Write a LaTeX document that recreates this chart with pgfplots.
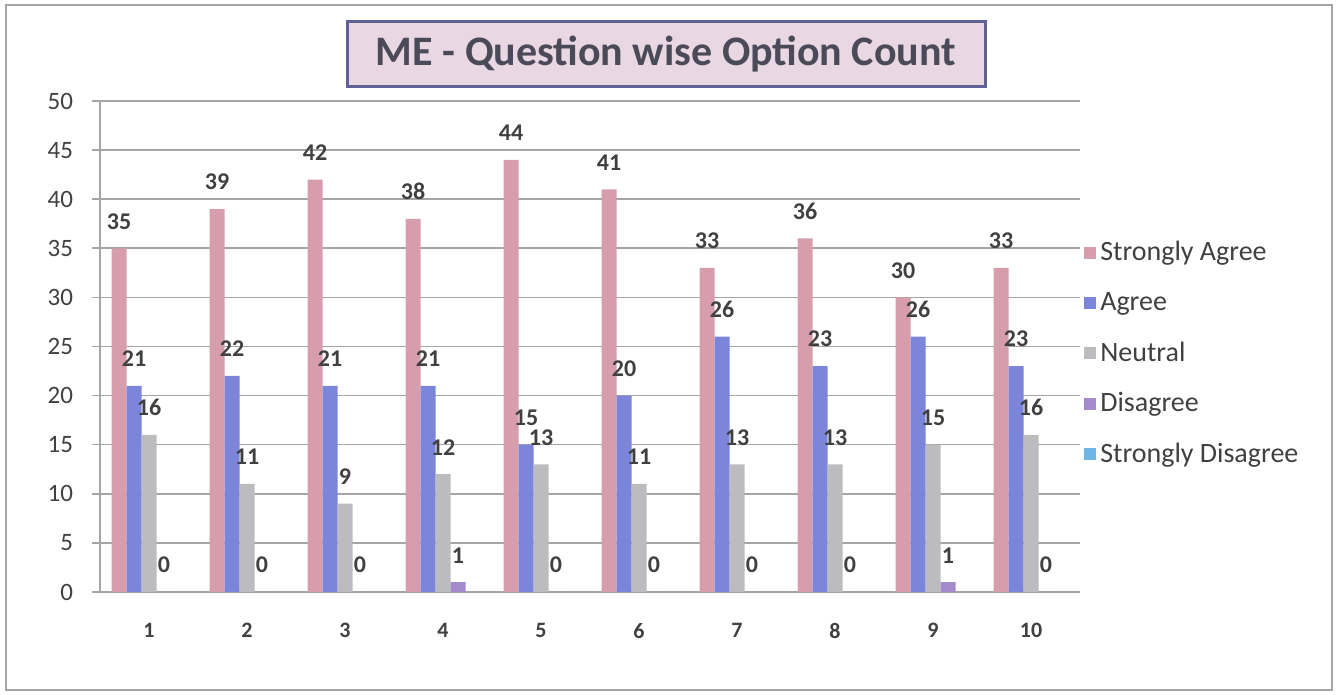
\documentclass[border=0pt]{standalone}
\usepackage{pgfplots}
\pgfplotsset{compat=1.18}
\usepackage{fontspec}
\setmainfont{Carlito}
\definecolor{cSA}{RGB}{214,157,172}
\definecolor{cA}{RGB}{123,134,219}
\definecolor{cN}{RGB}{188,188,191}
\definecolor{cD}{RGB}{163,138,203}
\definecolor{cSD}{RGB}{111,182,229}
\definecolor{txt}{RGB}{64,64,64}
\definecolor{gridc}{RGB}{165,165,165}
\definecolor{titlefill}{RGB}{233,216,228}
\definecolor{titledraw}{RGB}{96,98,150}
\begin{document}
\begin{tikzpicture}
\useasboundingbox (0,0) rectangle (670.5pt,347.5pt);
\draw[gridc, line width=1pt] (3pt,2.5pt) rectangle (666pt,345pt);
\begin{axis}[
  at={(50pt,51.5pt)}, anchor=south west,
  scale only axis, width=490pt, height=245.5pt,
  ybar=0pt, bar width=7.5pt,
  xmin=0.5, xmax=10.5, ymin=0, ymax=50,
  xtick={1,...,10},
  xticklabel style={font=\fontsize{11}{13}\selectfont\bfseries, text=txt, yshift=-8pt},
  extra x ticks={0.5,1.5,...,10.5}, extra x tick labels={},
  extra x tick style={grid=none, major tick length=4pt, tick align=outside, tick style={gridc, line width=0.8pt}},
  ytick={0,5,...,50},
  yticklabel style={font=\fontsize{12.5}{14}\selectfont, text=txt, xshift=-6pt},
  /pgf/number format/assume math mode=true,
  axis x line*=bottom, axis y line*=left,
  axis line style={gridc, line width=0.8pt, -},
  x tick style={draw=none},
  y tick style={gridc, line width=0.8pt},
  major tick length=4pt, tick align=outside,
  ymajorgrids, grid style={gridc, line width=0.8pt},
  every node near coord/.append style={font=\fontsize{12}{14}\selectfont\bfseries, text=txt, yshift=6pt},
  legend style={at={(1.004,0.723)}, anchor=north west, draw=none, fill=none,
    font=\fontsize{14}{16}\selectfont, text=txt, row sep=10.2pt, inner sep=0pt},
  legend cell align=left,
  legend image code/.code={\fill[#1, draw=none] (0pt,-3pt) rectangle (6pt,3pt);},
]
\addplot[fill=cSA, draw=none, nodes near coords] coordinates {(1,35) (2,39) (3,42) (4,38) (5,44) (6,41) (7,33) (8,36) (9,30) (10,33)};
\addplot[fill=cA, draw=none, nodes near coords] coordinates {(1,21) (2,22) (3,21) (4,21) (5,15) (6,20) (7,26) (8,23) (9,26) (10,23)};
\addplot[fill=cN, draw=none, nodes near coords] coordinates {(1,16) (2,11) (3,9) (4,12) (5,13) (6,11) (7,13) (8,13) (9,15) (10,16)};
\addplot[fill=cD, draw=none, nodes near coords] coordinates {(1,0) (2,0) (3,0) (4,1) (5,0) (6,0) (7,0) (8,0) (9,1) (10,0)};
\addplot[fill=cSD, draw=none] coordinates {(1,0) (2,0) (3,0) (4,0) (5,0) (6,0) (7,0) (8,0) (9,0) (10,0)};
\legend{Strongly Agree, Agree, Neutral, Disagree, Strongly Disagree}
\end{axis}
\node[draw=titledraw, line width=1.5pt, fill=titlefill, minimum width=319pt, minimum height=32.5pt,
  font=\fontsize{21}{24}\selectfont\bfseries, text={rgb,255:red,74;green,74;blue,88}] at (333pt,320.25pt) {ME - Question wise Option Count};
\end{tikzpicture}
\end{document}
